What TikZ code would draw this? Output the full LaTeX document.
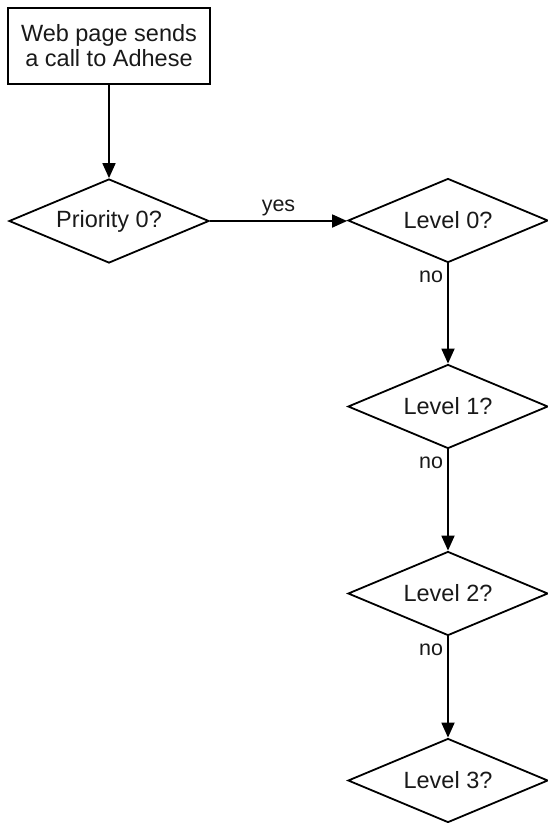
\documentclass[tikz,border=0pt]{standalone}
\usepackage{fontspec}
\setmainfont{Liberation Sans}
\usetikzlibrary{shapes.geometric,arrows.meta}
\begin{document}
\begin{tikzpicture}[x=1pt,y=-1pt,
  every node/.style={text=black!90},
  stepbox/.style={draw=black,line width=1.8pt,minimum width=202pt,minimum height=76pt,inner sep=0pt,align=center,font=\fontsize{23.5}{25}\selectfont},
  decision/.style={draw=black,line width=1.8pt,diamond,aspect=2.38,minimum width=200pt,minimum height=84pt,inner sep=0pt,font=\fontsize{23.5}{25}\selectfont},
  flow/.style={draw=black,line width=1.8pt,-{Triangle[length=15pt,width=13pt]}},
  lbl/.style={font=\fontsize{21.5}{23}\selectfont,inner sep=4pt}
]
\useasboundingbox (0,0) rectangle (548,823);
\node[stepbox] (start) at (109,46) {Web page sends\\a call to Adhese};
\node[decision] (p) at (109,221) {Priority 0?};
\node[decision] (l0) at (448,220.5) {Level 0?};
\node[decision] (l1) at (448,406.5) {Level 1?};
\node[decision] (l2) at (448,593.5) {Level 2?};
\node[decision] (l3) at (448,780.5) {Level 3?};
\draw[flow] (start) -- (p);
\draw[flow] (p.east) -- node[lbl,above] {yes} (p.east -| l0.west);
\draw[flow] (l0) -- node[lbl,pos=0.13,anchor=east] {no} (l1);
\draw[flow] (l1) -- node[lbl,pos=0.13,anchor=east] {no} (l2);
\draw[flow] (l2) -- node[lbl,pos=0.13,anchor=east] {no} (l3);
\end{tikzpicture}
\end{document}
